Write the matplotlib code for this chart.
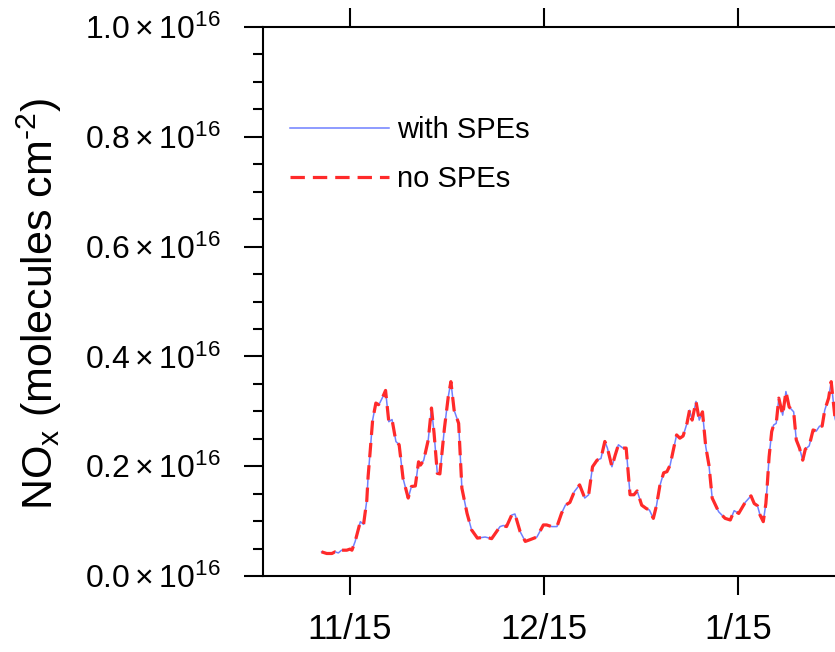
import matplotlib
matplotlib.use("Agg")
import matplotlib.pyplot as plt
from matplotlib.ticker import FixedLocator, MultipleLocator, FuncFormatter

plt.rcParams['font.family'] = ['Liberation Sans', 'DejaVu Sans']
plt.rcParams['mathtext.fontset'] = 'custom'
plt.rcParams['mathtext.rm'] = 'Liberation Sans'
plt.rcParams['mathtext.it'] = 'Liberation Sans:italic'
plt.rcParams['mathtext.bf'] = 'Liberation Sans:bold'

# days counted from 15 Nov
days = [-4.4, -3.6, -2.8, -2.3, -1.8, -1.3, -0.5, 0.0, 0.3, 0.8, 1.6, 2.1, 2.6, 2.8,
        3.1, 3.5, 4.0, 4.4, 4.6, 5.1, 5.5, 6.0, 6.5, 7.1, 7.6, 8.2, 9.0, 9.5, 10.1,
        10.6, 10.9, 11.4, 12.1, 12.6, 13.0, 13.5, 13.9, 14.6, 15.2, 15.6, 16.1, 16.8,
        17.3, 18.1, 18.8, 19.7, 20.9, 21.9, 23.2, 23.7, 24.2, 25.0, 25.5, 26.3, 27.1,
        27.8, 28.9, 29.9, 30.4, 31.2, 32.0, 32.7, 33.3, 34.0, 34.7, 35.5, 36.3, 36.9,
        37.5, 38.2, 38.8, 39.4, 39.8, 40.5, 41.0, 41.5, 42.2, 42.7, 43.3, 43.9, 44.4,
        45.1, 45.8, 46.3, 46.9, 47.4, 47.9, 48.5, 49.0, 49.5, 50.0, 50.5, 51.0, 51.5,
        52.1, 52.5, 52.9, 53.5, 54.0, 54.5, 55.0, 55.5, 56.0, 57.0, 58.0, 58.8, 59.4,
        60.1, 61.1, 62.0, 62.5, 63.0, 63.4, 63.9, 64.3, 64.5, 64.8, 65.2, 65.5, 65.9,
        66.3, 66.9, 67.4, 67.9, 68.6, 69.0, 69.5, 70.0, 70.4, 71.0, 71.6, 72.1, 72.6,
        73.0, 73.4, 74.0, 74.4, 75.0, 75.6, 76.3]

# NOx column, units of 1e16 molecules cm-2
nox_with_spe = [0.044, 0.041, 0.041, 0.044, 0.042, 0.047, 0.047, 0.049, 0.047, 0.063,
                0.099, 0.094, 0.138, 0.181, 0.224, 0.284, 0.315, 0.312, 0.315, 0.327,
                0.338, 0.281, 0.285, 0.245, 0.239, 0.178, 0.142, 0.163, 0.164, 0.208,
                0.202, 0.211, 0.248, 0.306, 0.260, 0.187, 0.186, 0.269, 0.327, 0.354,
                0.302, 0.278, 0.160, 0.114, 0.084, 0.069, 0.071, 0.068, 0.090, 0.092,
                0.090, 0.111, 0.113, 0.081, 0.063, 0.066, 0.071, 0.093, 0.093, 0.090,
                0.090, 0.114, 0.129, 0.134, 0.154, 0.166, 0.142, 0.148, 0.199, 0.211,
                0.214, 0.245, 0.233, 0.199, 0.220, 0.239, 0.233, 0.233, 0.148, 0.148,
                0.155, 0.129, 0.123, 0.120, 0.105, 0.129, 0.164, 0.188, 0.190, 0.202,
                0.230, 0.257, 0.251, 0.255, 0.278, 0.302, 0.284, 0.318, 0.284, 0.299,
                0.236, 0.202, 0.142, 0.117, 0.105, 0.102, 0.119, 0.114, 0.134, 0.146,
                0.132, 0.128, 0.111, 0.099, 0.132, 0.163, 0.217, 0.263, 0.275, 0.278,
                0.324, 0.293, 0.336, 0.308, 0.299, 0.248, 0.233, 0.211, 0.231, 0.237,
                0.266, 0.264, 0.273, 0.273, 0.302, 0.324, 0.354, 0.287, 0.262, 0.245]
nox_no_spe = list(nox_with_spe)

tick_days = [0, 30, 60]
tick_labels = ['11/15', '12/15', '1/15']

scale = 1e16
W, H = 835, 652
fig = plt.figure(figsize=(W / 100, H / 100), dpi=100)
ax = fig.add_axes([263 / W, 76 / H, 737 / W, 549 / H])

ax.plot(days, [v * scale for v in nox_with_spe], color='#6f80ff', lw=1.1,
        label='with SPEs', zorder=2)
ax.plot(days, [v * scale for v in nox_no_spe], color='#ff2a2a', lw=2.3,
        ls=(0, (4.5, 2.5)), label='no SPEs', zorder=3)

ax.set_xlim(-13.45, 100.5)
ax.set_ylim(0, 1.0e16)

ax.xaxis.set_major_locator(FixedLocator(tick_days))
ax.set_xticklabels(tick_labels)
ax.yaxis.set_major_locator(MultipleLocator(0.2e16))
ax.yaxis.set_minor_locator(MultipleLocator(0.05e16))
ax.yaxis.set_major_formatter(FuncFormatter(
    lambda v, p: '$%.1f\\times10^{16}$' % (v / scale)))

ax.tick_params(axis='both', which='major', direction='out', length=13.5,
               width=1.5, labelsize=23)
ax.tick_params(axis='y', which='minor', direction='out', length=7, width=1.5)
ax.tick_params(axis='y', which='both', right=False, pad=17)
ax.tick_params(axis='x', which='both', top=True, pad=13, labelsize=25)
for s in ax.spines.values():
    s.set_linewidth(1.5)

ax.set_ylabel('NO$_{\\mathrm{x}}$ (molecules cm$^{\\text{-2}}$)', fontsize=31)
ax.yaxis.set_label_coords(64 / W, 0.5 + 22 / H, transform=fig.transFigure)

ax.legend(loc='upper left', bbox_to_anchor=(290 / W, 1 - 116 / H),
          bbox_transform=fig.transFigure, frameon=False, fontsize=21,
          handlelength=3.4, handletextpad=0.28, labelspacing=0.72, borderpad=0,
          borderaxespad=0)

fig.savefig('out.png', dpi=100)
